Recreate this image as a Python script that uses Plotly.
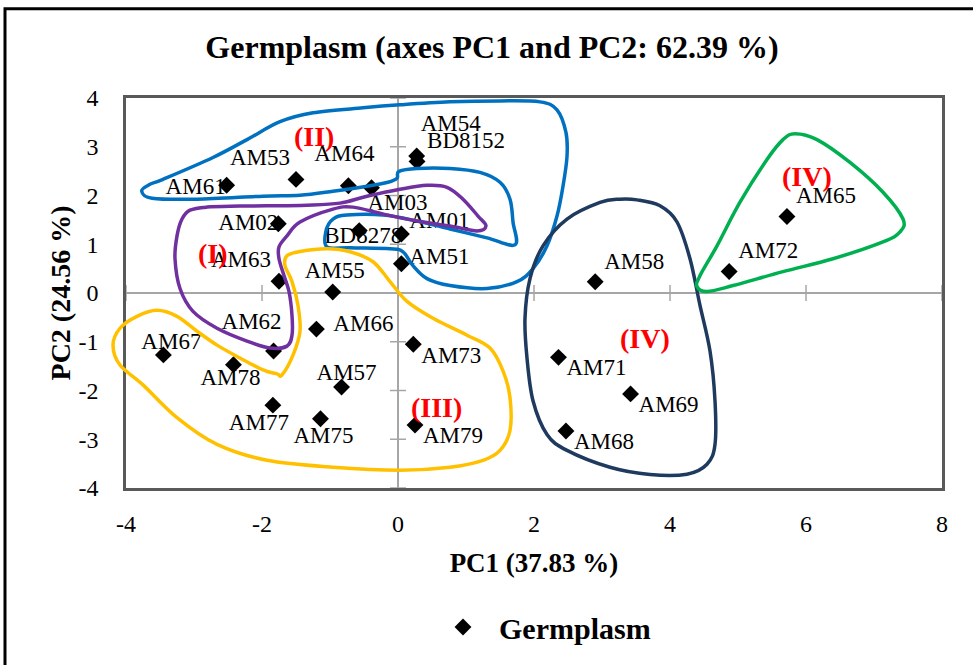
import plotly.graph_objects as go

# ---------------- data ----------------
names = ["AM61", "AM53", "AM64", "AM03", "AM54", "BD8152", "AM02", "BD8278", "AM01",
         "AM51", "AM63", "AM55", "AM66", "AM62", "AM67", "AM78", "AM73", "AM57",
         "AM77", "AM75", "AM79", "AM58", "AM72", "AM65", "AM71", "AM69", "AM68"]
pc1 = [-2.52, -1.50, -0.73, -0.39, 0.275, 0.28, -1.76, -0.57, 0.05,
       0.05, -1.75, -0.96, -1.20, -1.83, -3.45, -2.42, 0.225, -0.83,
       -1.84, -1.14, 0.25, 2.90, 4.87, 5.72, 2.36, 3.42, 2.47]
pc2 = [2.21, 2.33, 2.20, 2.16, 2.81, 2.70, 1.42, 1.28, 1.21,
       0.60, 0.24, 0.02, -0.74, -1.19, -1.27, -1.47, -1.05, -1.93,
       -2.30, -2.58, -2.71, 0.23, 0.44, 1.57, -1.32, -2.07, -2.83]

x_ticks = [-4, -2, 0, 2, 4, 6, 8]
x_ticktext = ["-4", "-2", "0", "2", "4", "6", "8"]
y_ticks = [-4, -3, -2, -1, 0, 1, 2, 3, 4]
y_ticktext = ["-4", "-3", "-2", "-1", "0", "1", "2", "3", "4"]

group_labels = ["(II)", "(I)", "(III)", "(IV)", "(IV)"]

# ---------------- layout constants ----------------
W, H = 973, 665
ML, MR, MT, MB = 126, 31, 98, 174
XR, YR = [-4, 8], [-4, 4]
PW, PH = W - ML - MR, H - MT - MB
PX_X = PW / (XR[1] - XR[0])   # pixels per x unit
PX_Y = PH / (YR[1] - YR[0])   # pixels per y unit

SERIF = "Liberation Serif, Times New Roman, serif"

# label offsets (pixels, dx right, dy down) of each label centre from its point
label_off = {
    "AM61": (-31, 3), "AM53": (-36, -20), "AM64": (-4, -31), "AM03": (26, 17),
    "AM54": (34, -31), "BD8152": (49, -19), "AM02": (-30, 0), "BD8278": (4, 7),
    "AM01": (38, -12), "AM51": (38, -6), "AM63": (-38, -20), "AM55": (2, -20),
    "AM66": (47, -4), "AM62": (-22, -28), "AM67": (8, -12), "AM78": (-3, 15),
    "AM73": (38, 13), "AM57": (5, -13), "AM77": (-14, 19), "AM75": (3, 19),
    "AM79": (38, 12), "AM58": (39, -19), "AM72": (39, -19), "AM65": (39, -19),
    "AM71": (38, 12), "AM69": (38, 12), "AM68": (38, 12),
}

lab_x = [x + label_off[n][0] / PX_X for n, x in zip(names, pc1)]
lab_y = [y - label_off[n][1] / PX_Y for n, y in zip(names, pc2)]

# ---------------- decorative group outlines (traced on reference, pixel space) ----------------
def ref2data(pts):
    return [((px - 398) / 68.0, (294.5 - py) / 49.1) for px, py in pts]


def data2paper(pts):
    return [((x - XR[0]) / (XR[1] - XR[0]), (y - YR[0]) / (YR[1] - YR[0])) for x, y in pts]


blue_ref = [(141.7, 191.7), (150, 185), (163, 180), (213, 158), (247, 140), (280, 122), (313, 113),
            (363, 108), (400, 105), (450, 102), (500, 101), (540, 102), (557, 110), (566, 133),
            (567, 157), (563, 187), (557, 217), (547, 247), (533, 270), (517, 283), (487, 290),
            (450, 287), (427, 280), (413, 267), (403, 253), (390, 250), (350, 249), (327, 248),
            (326, 232), (333, 220), (347, 216), (383, 216), (417, 222), (450, 230), (487, 239),
            (515, 246), (513, 223), (510, 200), (500, 183), (480, 173), (450, 169), (417, 169),
            (399, 172), (397, 179), (388, 183), (367, 187), (333, 192), (300, 196), (263, 197),
            (197, 200), (152, 199)]
purple_ref = [(190, 211), (207, 208), (240, 207), (307, 206), (340, 204), (367, 197), (400, 190),
              (427, 186), (447, 188), (463, 200), (478, 217), (486, 227), (477, 232), (450, 227),
              (417, 222), (383, 215), (353, 208), (333, 210), (300, 223), (287, 237), (279, 248),
              (279, 260), (284, 277), (289, 293), (292, 317), (292, 337), (287, 348), (270, 350),
              (247, 343), (217, 330), (193, 313), (180, 290), (175, 260), (177, 237), (182, 220)]
yellow_ref = [(282, 377), (293, 357), (300, 333), (298, 307), (292, 283), (285, 267), (287, 257),
              (300, 252.7), (327, 250), (350, 253), (373, 263), (390, 283), (407, 303), (433, 320),
              (467, 337), (490, 350), (503, 373), (510, 400), (510, 433), (500, 453), (483, 463),
              (450, 470), (400, 473), (333, 470), (267, 463), (217, 447), (177, 420), (143, 387),
              (120, 367), (113, 347), (120, 330), (137, 318), (157, 312), (177, 318), (197, 333),
              (217, 347), (240, 360), (263, 372), (277, 376)]
navy_ref = [(637, 200.7), (660, 206.7), (677, 223), (690, 260), (700, 307), (710, 353), (715, 403),
            (715, 447), (707, 467), (687, 477), (650, 477.3), (610, 470), (567, 453), (547, 437),
            (533, 403), (527, 360), (525, 320), (530, 280), (543, 247), (567, 220), (600, 203.3),
            (620, 200)]
green_ref = [(795, 134), (817, 140), (850, 163), (883, 193), (903, 220), (900, 233), (883, 243),
             (833, 260), (783, 273), (733, 287), (707, 293), (697, 288), (700, 277), (717, 247),
             (740, 203), (767, 160), (783, 140)]

group_pos_ref = [(314, 136.7), (212.5, 255), (436.7, 410), (644.5, 340), (806.5, 177.3)]


def closed_spline(pts):
    n = len(pts)
    s = "M %.5f,%.5f" % pts[0]
    for i in range(n):
        p0, p1, p2, p3 = pts[i - 1], pts[i], pts[(i + 1) % n], pts[(i + 2) % n]
        c1 = (p1[0] + (p2[0] - p0[0]) / 6, p1[1] + (p2[1] - p0[1]) / 6)
        c2 = (p2[0] - (p3[0] - p1[0]) / 6, p2[1] - (p3[1] - p1[1]) / 6)
        s += " C %.5f,%.5f %.5f,%.5f %.5f,%.5f" % (c1 + c2 + p2)
    return s + " Z"


outlines = [(blue_ref, "#0070C0"), (purple_ref, "#7030A0"), (yellow_ref, "#FFC000"),
            (navy_ref, "#1F3A5F"), (green_ref, "#00B050")]

fig = go.Figure()

fig.add_trace(go.Scatter(
    x=pc1, y=pc2, mode="markers", name="Germplasm",
    marker=dict(symbol="diamond", size=13, color="black"),
    hovertext=names, hoverinfo="text+x+y",
))
fig.add_trace(go.Scatter(
    x=lab_x, y=lab_y, mode="text", text=names, textposition="middle center",
    textfont=dict(family=SERIF, size=23, color="black"),
    showlegend=False, hoverinfo="skip",
))

shapes = []
for pts, col in outlines:
    # paper-referenced so the outline is not clipped at the plot frame
    shapes.append(dict(type="path", xref="paper", yref="paper",
                       path=closed_spline(data2paper(ref2data(pts))),
                       line=dict(color=col, width=3.5), layer="above"))

# crossing tick marks on the zero axes
for yv in y_ticks:
    shapes.append(dict(type="line", xref="x", yref="y", xsizemode="pixel", xanchor=0,
                       x0=-8, x1=8, y0=yv, y1=yv, line=dict(color="#A6A6A6", width=1.5),
                       layer="below"))
for xv in x_ticks:
    shapes.append(dict(type="line", xref="x", yref="y", ysizemode="pixel", yanchor=0,
                       y0=-8, y1=8, x0=xv, x1=xv, line=dict(color="#A6A6A6", width=1.5),
                       layer="below"))

# outer chart border
shapes.append(dict(type="rect", xref="paper", yref="paper",
                   x0=(5 - ML) / PW, x1=(990 - ML) / PW,
                   y0=(MT + PH - 700) / PH, y1=(MT + PH - 8) / PH,
                   line=dict(color="black", width=3), fillcolor="rgba(0,0,0,0)"))

annotations = []
for txt, (gx, gy) in zip(group_labels, ref2data(group_pos_ref)):
    annotations.append(dict(x=gx, y=gy, xref="x", yref="y", text="<b>%s</b>" % txt,
                            showarrow=False, font=dict(family=SERIF, size=28, color="#FF0000")))

fig.update_layout(
    width=W, height=H,
    margin=dict(l=ML, r=MR, t=MT, b=MB),
    paper_bgcolor="white", plot_bgcolor="white",
    font=dict(family=SERIF, color="black"),
    title=dict(text="<b>Germplasm (axes PC1 and PC2: 62.39 %)</b>",
               x=492 / W, xanchor="center", y=1 - 47 / H, yanchor="middle",
               font=dict(family=SERIF, size=32, color="black")),
    xaxis=dict(range=XR, tickvals=x_ticks, ticktext=x_ticktext, showgrid=False,
               zeroline=True, zerolinecolor="#A6A6A6", zerolinewidth=1.5,
               showline=True, linecolor="#595959", linewidth=2.5, mirror=True,
               ticks="outside", ticklen=12, tickcolor="rgba(0,0,0,0)",
               tickfont=dict(family=SERIF, size=24, color="black"),
               title=dict(text="<b>PC1 (37.83 %)</b>", standoff=18,
                          font=dict(family=SERIF, size=27, color="black"))),
    yaxis=dict(range=YR, tickvals=y_ticks, ticktext=y_ticktext, showgrid=False,
               zeroline=True, zerolinecolor="#A6A6A6", zerolinewidth=1.5,
               showline=True, linecolor="#595959", linewidth=2.5, mirror=True,
               ticks="outside", ticklen=20, tickcolor="rgba(0,0,0,0)",
               tickfont=dict(family=SERIF, size=24, color="black"),
               title=dict(text="<b>PC2 (24.56 %)</b>", standoff=0,
                          font=dict(family=SERIF, size=28, color="black"))),
    showlegend=True,
    legend=dict(x=(427 - ML) / PW, xanchor="left", y=(MT + PH - 631) / PH, yanchor="middle",
                itemwidth=62, bgcolor="rgba(0,0,0,0)",
                font=dict(family=SERIF, size=30, color="black", weight="bold")),
    shapes=shapes,
    annotations=annotations,
)

fig.write_html("out.html")
